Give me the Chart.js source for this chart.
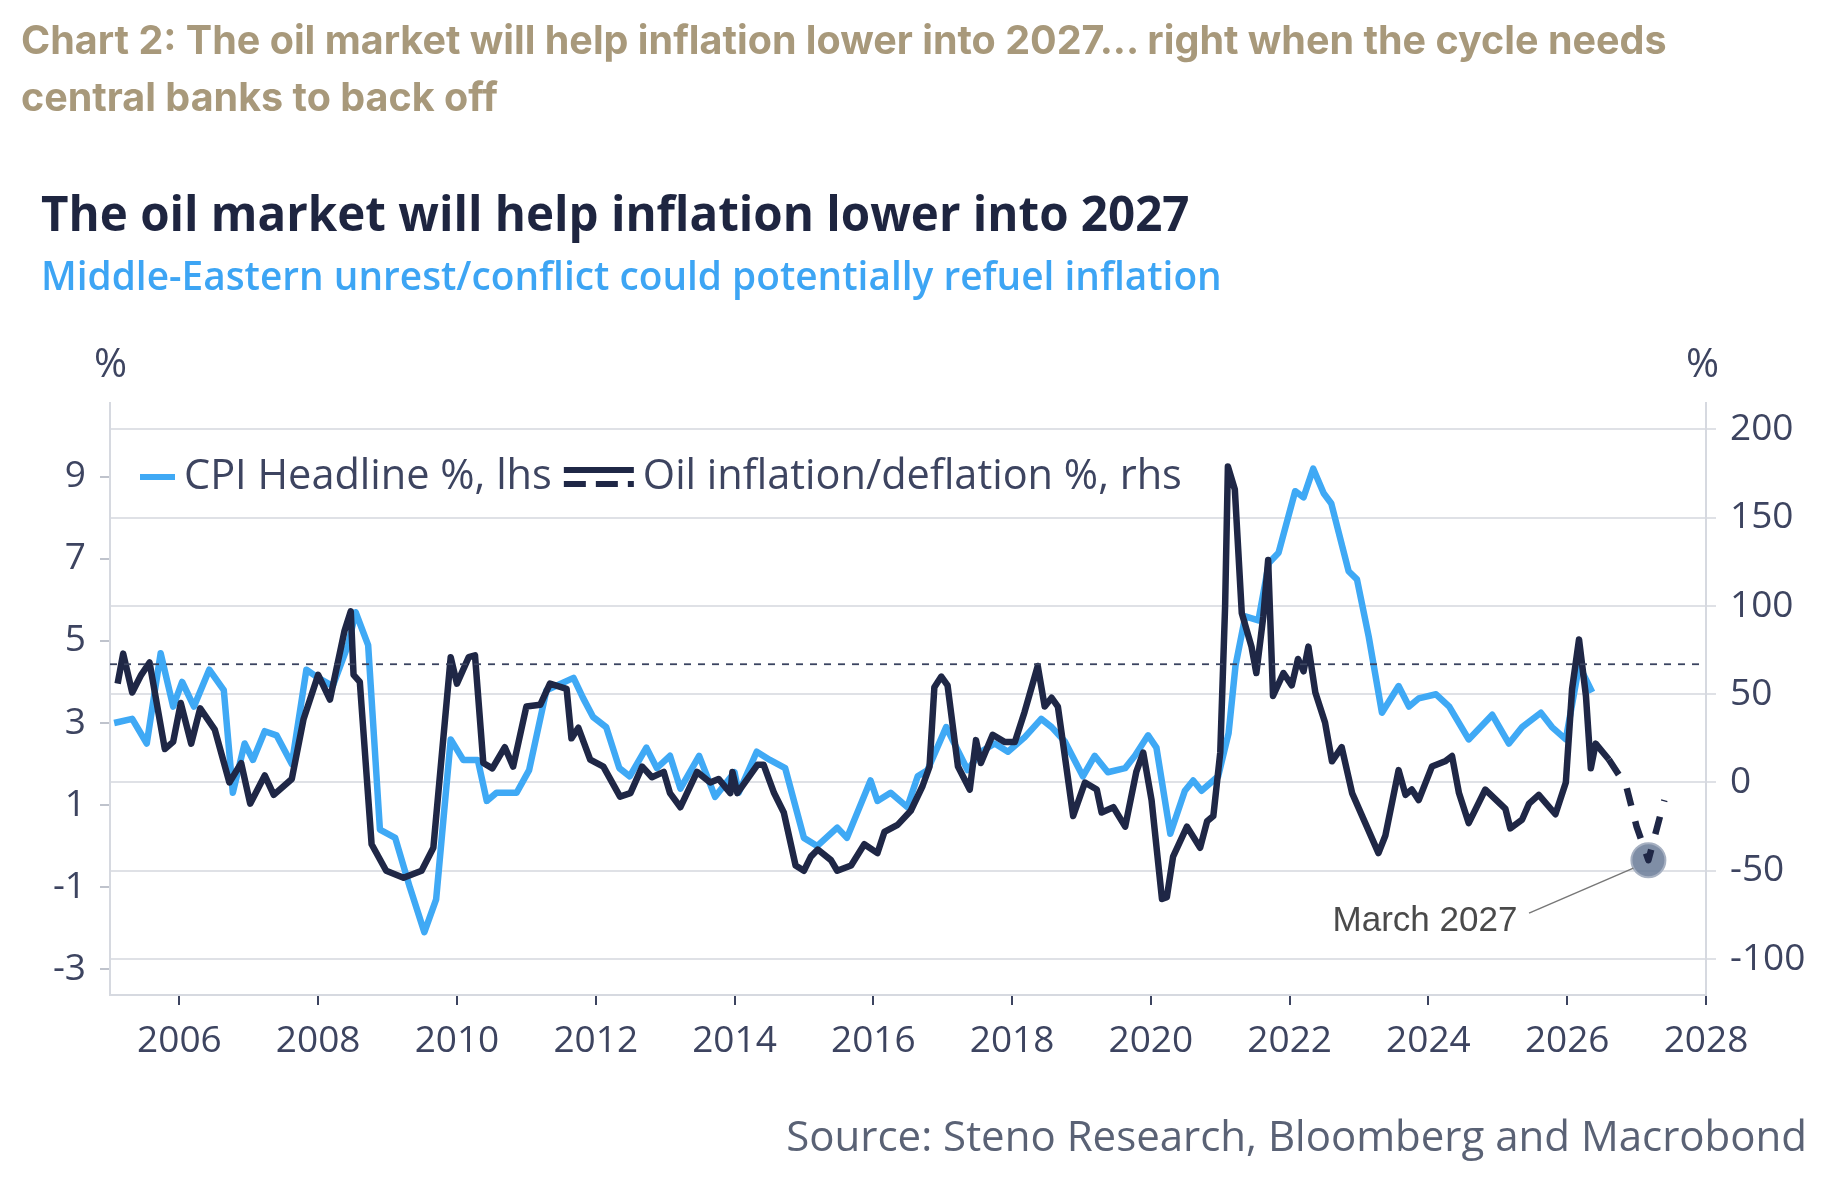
<!DOCTYPE html>
<html>
<head>
<meta charset="utf-8">
<script src="https://cdn.jsdelivr.net/npm/chart.js@4"></script>
<style>
  body { margin:0; width:1848px; height:1204px; background:#fff; position:relative; overflow:hidden; font-family:"Open Sans", sans-serif; }
  .t { position:absolute; white-space:nowrap; }
  #head { left:21px; top:12px; font-family:Inter, sans-serif; font-weight:700; font-size:39.5px; line-height:57px; color:#a8997b; }
  #title { left:41px; top:180px; font-weight:700; font-size:47.5px; color:#1e2540; }
  #sub { left:41px; top:249px; font-weight:600; font-size:38.8px; color:#3da5f4; }
  .pct { top:334px; font-size:40px; color:#3d4460; }
  #src { right:41px; top:1106px; font-size:42px; color:#5a6275; }
  canvas { position:absolute; left:0; top:0; }
</style>
</head>
<body>
<canvas id="myChart" width="1848" height="1204"></canvas>
<div class="t" id="head">Chart 2: The oil market will help inflation lower into 2027... right when the cycle needs<br>central banks to back off</div>
<div class="t" id="title">The oil market will help inflation lower into 2027</div>
<div class="t" id="sub">Middle-Eastern unrest/conflict could potentially refuel inflation</div>
<div class="t pct" style="left:94px">%</div>
<div class="t pct" style="left:1686px">%</div>
<div class="t" id="src">Source: Steno Research, Bloomberg and Macrobond</div>
<script>
// CPI headline, lhs
const cpiYears = [2005.06,2005.32,2005.53,2005.73,2005.91,2006.04,2006.21,2006.43,2006.64,2006.77,2006.94,2007.06,2007.23,2007.4,2007.62,2007.83,2008.0,2008.21,2008.43,2008.54,2008.72,2008.89,2009.11,2009.32,2009.53,2009.7,2009.91,2010.09,2010.3,2010.43,
  2010.57,2010.86,2011.04,2011.29,2011.68,2011.82,2011.96,2012.15,2012.34,2012.49,2012.73,2012.88,2013.07,2013.22,2013.49,2013.72,2014.0,2014.06,2014.32,2014.51,2014.73,2015.0,2015.19,2015.48,2015.62,2015.96,2016.06,2016.25,
  2016.49,2016.64,2016.78,2017.05,2017.36,2017.55,2017.75,2017.94,2018.18,2018.42,2018.57,2018.76,2019.02,2019.19,2019.38,2019.63,2019.77,2019.96,2020.08,2020.28,2020.49,2020.61,2020.73,2020.97,
  2021.12,2021.22,2021.36,2021.55,2021.7,2021.84,2022.08,2022.2,2022.34,2022.49,2022.6,2022.85,2022.97,2023.14,2023.33,2023.57,2023.72,2023.86,2024.11,2024.3,2024.58,2024.92,2025.16,2025.35,2025.62,2025.78,2025.98,2026.17,2026.36];
const cpiValues = [3.0,3.1,2.5,4.7,3.4,4.0,3.4,4.3,3.8,1.3,2.5,2.1,2.8,2.7,2.0,4.3,4.1,3.9,4.9,5.7,4.9,0.4,0.2,-1.0,-2.1,-1.3,2.6,2.1,2.1,1.1,
  1.3,1.3,1.85,3.8,4.1,3.6,3.15,2.9,1.9,1.7,2.4,1.9,2.2,1.4,2.2,1.2,1.8,1.3,2.3,2.1,1.9,0.2,0.0,0.45,0.2,1.6,1.1,1.3,
  0.95,1.7,1.85,2.9,1.85,2.3,2.5,2.3,2.65,3.1,2.9,2.55,1.7,2.2,1.8,1.9,2.2,2.7,2.4,0.3,1.35,1.6,1.35,1.7,
  2.75,4.4,5.6,5.5,6.9,7.15,8.65,8.5,9.2,8.6,8.35,6.7,6.5,5.1,3.25,3.9,3.4,3.6,3.7,3.4,2.6,3.2,2.5,2.9,3.25,2.9,2.6,4.4,3.75];

// Oil inflation/deflation, rhs
const oilYears = [2005.11,2005.19,2005.32,2005.45,2005.57,2005.79,2005.91,2006.02,2006.17,2006.3,2006.51,2006.72,2006.89,2007.02,2007.23,2007.36,2007.62,2007.79,2008.0,2008.17,2008.38,2008.47,2008.51,2008.6,2008.77,2008.98,2009.23,2009.49,2009.66,2009.91,2010.0,2010.17,2010.26,2010.38,2010.51,
  2010.69,2010.81,2011.0,2011.2,2011.34,2011.58,2011.65,2011.75,2011.92,2012.11,2012.35,2012.5,2012.67,2012.81,2012.98,2013.07,2013.22,2013.46,2013.65,2013.77,2013.94,2013.97,2014.04,2014.33,2014.42,2014.57,2014.71,2014.88,2015.0,2015.1,2015.2,2015.39,2015.48,2015.68,2015.87,2016.06,2016.16,2016.35,
  2016.54,2016.71,2016.81,2016.88,2016.98,2017.07,2017.22,2017.39,2017.48,2017.55,2017.72,2017.89,2018.04,2018.18,2018.37,2018.47,2018.57,2018.66,2018.76,2018.88,2019.05,2019.22,2019.29,2019.46,2019.63,2019.79,2019.89,2020.01,2020.16,2020.23,2020.32,2020.52,2020.71,2020.81,2020.9,2021.0,
  2021.07,2021.11,2021.21,2021.31,2021.45,2021.52,2021.62,2021.69,2021.76,2021.91,2022.03,2022.12,2022.2,2022.27,2022.37,2022.51,2022.61,2022.75,2022.9,2023.09,2023.28,2023.38,2023.57,2023.67,2023.76,2023.86,2024.05,2024.24,2024.34,2024.44,2024.58,2024.82,2025.11,2025.18,2025.35,2025.45,2025.59,2025.83,2025.98,2026.07,2026.17,2026.27,2026.34,2026.41,2026.6];
const oilValues = [56,73,51,61,68,19,23,45,22,42,30,0,11,-12,4,-7,2,36,61,47,86,97,61,57,-35,-50,-54,-50,-37,71,56,71,72,11,8,
  20,9,43,44,56,53,25,31,13,9,-8,-6,9,3,6,-6,-14,6,0,2,-6,6,-6,10,10,-6,-17,-47,-50,-42,-38,-44,-50,-47,-35,-40,-28,-24,
  -16,-2,9,54,60,55,9,-4,24,11,27,23,23,40,66,43,48,43,15,-19,0,-4,-17,-14,-25,6,17,-10,-66,-65,-42,-25,-37,-22,-19,17,
  100,179,166,96,77,62,94,126,49,62,55,70,63,77,51,34,12,20,-6,-23,-40,-30,7,-7,-4,-10,9,12,15,-6,-23,-4,-15,-26,-21,-12,-7,-18,0,53,81,49,8,22,13];

// oil projection (dashed) into 2027
const projYears = [2026.6,2026.85,2027.0,2027.17,2027.4];
const projValues = [13,-2,-25,-44,-10];

const refLine = 67; // dotted reference, rhs
const marchPoint = [2027.17, -44];

const xTicks = [2006,2008,2010,2012,2014,2016,2018,2020,2022,2024,2026,2028];
const lhsTicks = [-3,-2,-1,0,1,2,3,4,5,6,7,8,9,10];
const rhsTicks = [-100,-50,0,50,100,150,200];

const NAVY = '#1f2746', BLUE = '#3fa9f5', TXT = '#3d4460';
const toXY = (xs, ys) => xs.map((x, i) => ({x: x, y: ys[i]}));

const extras = {
  id: 'extras',
  afterDatasetsDraw(chart) {
    const c = chart.ctx, xs = chart.scales.x, yr = chart.scales.yR;
    c.save();
    // march 2027 callout
    const px = xs.getPixelForValue(marchPoint[0]), py = yr.getPixelForValue(marchPoint[1]);
    c.strokeStyle = '#777'; c.lineWidth = 1.5;
    c.beginPath(); c.moveTo(xs.getPixelForValue(2025.45), yr.getPixelForValue(-74)); c.lineTo(px - 15, py + 8); c.stroke();
    c.font = '35px "Liberation Sans", Arial, sans-serif'; c.fillStyle = '#4a4a4a';
    c.textAlign = 'center'; c.textBaseline = 'middle';
    c.fillText('March 2027', xs.getPixelForValue(2023.95), yr.getPixelForValue(-78.5));
    // legend
    c.font = '41.5px "Open Sans", sans-serif'; c.fillStyle = TXT; c.textAlign = 'left';
    const ly = 477;
    c.strokeStyle = BLUE; c.lineWidth = 6;
    c.beginPath(); c.moveTo(140, ly); c.lineTo(175, ly); c.stroke();
    const t1 = 'CPI Headline %, lhs';
    c.fillText(t1, 184, ly);
    let x2 = 184 + c.measureText(t1).width + 12;
    c.strokeStyle = NAVY;
    c.beginPath(); c.moveTo(x2, ly - 7); c.lineTo(x2 + 70, ly - 7); c.stroke();
    c.setLineDash([22, 10]);
    c.beginPath(); c.moveTo(x2, ly + 7); c.lineTo(x2 + 70, ly + 7); c.stroke();
    c.setLineDash([]);
    c.fillText('Oil inflation/deflation %, rhs', x2 + 79, ly);
    c.restore();
  }
};

const tickFont = {family: '"Open Sans", sans-serif', size: 37};

new Chart(document.getElementById('myChart'), {
  type: 'line',
  data: {
    datasets: [
      {data: toXY([2005, 2028], [refLine, refLine]), yAxisID: 'yR', borderColor: '#3a4460', borderWidth: 1.8, borderDash: [7, 7], pointRadius: 0},
      {data: toXY(oilYears, oilValues), yAxisID: 'yR', borderColor: NAVY, borderWidth: 6.5, pointRadius: 0},
      {data: toXY(projYears, projValues), yAxisID: 'yR', borderColor: NAVY, borderWidth: 6.5, borderDash: [18, 16], pointRadius: 0},
      {data: toXY(cpiYears, cpiValues), yAxisID: 'yL', borderColor: BLUE, borderWidth: 6.5, pointRadius: 0},
      {data: [{x: marchPoint[0], y: marchPoint[1]}], yAxisID: 'yR', pointRadius: 17, pointBackgroundColor: 'rgba(105,122,150,0.85)', pointBorderColor: '#a7b1c2', pointBorderWidth: 2, showLine: false}
    ]
  },
  options: {
    responsive: false, animation: false,
    layout: {padding: {top: 403, left: 0, right: 0, bottom: 0}},
    elements: {line: {tension: 0, borderJoinStyle: 'round', borderCapStyle: 'butt'}},
    plugins: {legend: {display: false}, tooltip: {enabled: false}},
    scales: {
      x: {
        type: 'linear', min: 2005, max: 2028,
        afterBuildTicks: s => { s.ticks = xTicks.map(v => ({value: v})); },
        afterFit: s => { s.height = 209; },
        grid: {drawOnChartArea: false, tickLength: 10, color: '#3d4460', lineWidth: 2},
        border: {color: '#d6d9e0', width: 2},
        ticks: {font: tickFont, color: TXT, padding: 14, callback: v => String(v)}
      },
      yL: {
        position: 'left', min: -3.63, max: 10.8,
        afterBuildTicks: s => { s.ticks = lhsTicks.map(v => ({value: v})); },
        afterFit: s => { s.width = 110; },
        grid: {drawOnChartArea: false, tickLength: 10, color: '#bfc3cc', lineWidth: 2},
        border: {color: '#d6d9e0', width: 2},
        ticks: {font: tickFont, color: TXT, padding: 14, callback: v => (Math.abs(v % 2) === 1 ? String(v) : '')}
      },
      yR: {
        position: 'right', min: -120.4, max: 215,
        afterBuildTicks: s => { s.ticks = rhsTicks.map(v => ({value: v})); },
        afterFit: s => { s.width = 142; },
        grid: {drawOnChartArea: true, tickLength: 10, color: '#dfe1e6', lineWidth: 2},
        border: {color: '#d6d9e0', width: 2},
        ticks: {font: tickFont, color: TXT, padding: 14, callback: v => String(v)}
      }
    }
  },
  plugins: [extras]
});
</script>
</body>
</html>
